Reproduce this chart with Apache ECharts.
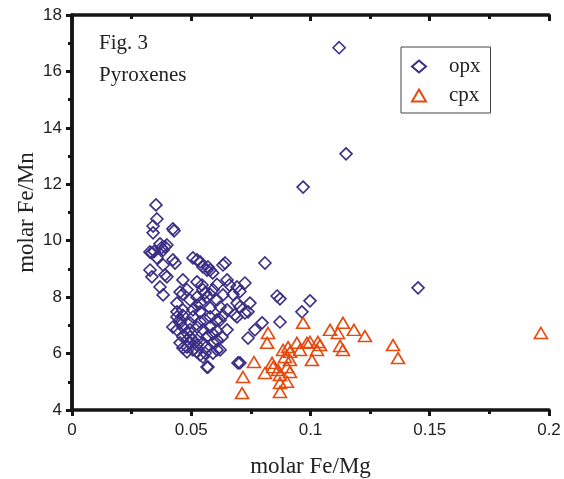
<!DOCTYPE html>
<html>
<head>
<meta charset="utf-8">
<script src="https://cdn.jsdelivr.net/npm/echarts@6/dist/echarts.min.js"></script>
<style>
  html, body { margin: 0; padding: 0; background: #fff; }
  #chart { width: 564px; height: 479px; }
</style>
</head>
<body>
<div id="chart"></div>
<script>
// opx: [molar Fe/Mg, molar Fe/Mn]
const opx = [
  [0.112, 16.84], [0.1149, 13.08], [0.0969, 11.9], [0.1451, 8.33],
  [0.0998, 7.87], [0.086, 8.04], [0.0872, 7.94], [0.0964, 7.48], [0.0872, 7.12],
  [0.0809, 9.21], [0.0633, 9.14],
  [0.0352, 11.27], [0.0356, 10.77], [0.034, 10.52], [0.034, 10.28],
  [0.0423, 10.42], [0.0428, 10.35], [0.0369, 9.89], [0.039, 9.78], [0.0398, 9.85],
  [0.0382, 9.67], [0.0327, 9.6], [0.0335, 9.57], [0.0345, 9.62], [0.0375, 9.75],
  [0.0356, 9.39], [0.0423, 9.32], [0.0432, 9.21], [0.0382, 9.14], [0.0327, 8.96],
  [0.0335, 8.72], [0.039, 8.79], [0.0398, 8.72], [0.0369, 8.36], [0.0382, 8.08],
  [0.0465, 8.61], [0.0453, 8.18], [0.0465, 8.11],
  [0.0507, 9.39], [0.0524, 9.32], [0.0537, 9.25], [0.057, 9.07], [0.0579, 8.96],
  [0.059, 8.86], [0.0642, 9.21], [0.0549, 9.07], [0.0566, 8.96], [0.0482, 8.26],
  [0.0524, 8.54], [0.0545, 8.43], [0.0549, 8.26], [0.065, 8.61], [0.066, 8.43],
  [0.0692, 8.36], [0.0725, 8.5], [0.0495, 7.9], [0.0524, 8.0], [0.0566, 8.01],
  [0.0608, 7.9], [0.0633, 8.08], [0.0591, 8.26], [0.0692, 7.79], [0.0704, 7.65],
  [0.0738, 7.48], [0.0746, 7.79], [0.0725, 7.44], [0.0692, 7.3], [0.0683, 7.37],
  [0.044, 7.48], [0.0465, 7.55], [0.0507, 7.55], [0.0537, 7.79], [0.044, 7.79],
  [0.0537, 7.48], [0.0579, 7.3], [0.0608, 7.19], [0.0453, 7.19], [0.044, 7.3],
  [0.0453, 7.09], [0.0465, 6.94], [0.0423, 6.94], [0.044, 6.84], [0.0495, 7.09],
  [0.0524, 6.94], [0.0549, 6.84], [0.0579, 6.94], [0.0621, 7.19], [0.065, 6.84],
  [0.0482, 6.73], [0.0495, 6.59], [0.0507, 6.48], [0.0453, 6.38], [0.0465, 6.59],
  [0.0482, 6.48], [0.0495, 6.38], [0.0524, 6.48], [0.0549, 6.38], [0.0591, 6.38],
  [0.0608, 6.48], [0.0629, 6.59], [0.0482, 6.23], [0.0465, 6.2], [0.0507, 6.13],
  [0.0482, 6.06], [0.0524, 6.06], [0.0537, 5.95], [0.0549, 5.88], [0.0558, 6.02],
  [0.0591, 6.02], [0.0608, 6.13], [0.0621, 6.13], [0.057, 5.52], [0.0566, 5.52],
  [0.0797, 7.09], [0.0767, 6.84], [0.0738, 6.55], [0.0704, 5.67], [0.0696, 5.67],
  [0.0579, 7.62], [0.0621, 7.65], [0.065, 7.55], [0.0558, 7.2], [0.0591, 6.7],
  [0.0537, 7.12], [0.0566, 6.6], [0.0608, 6.8], [0.0495, 6.85], [0.0507, 7.3],
  [0.0465, 7.35], [0.0524, 7.7], [0.0558, 8.15], [0.0608, 8.45], [0.0579, 8.1],
  [0.0633, 7.35], [0.0675, 8.1], [0.0704, 8.2], [0.0524, 6.3], [0.0565, 6.25]
];
const cpx = [
  [0.0969, 7.09], [0.0822, 6.73], [0.0818, 6.38], [0.0763, 5.7], [0.0717, 5.17],
  [0.0713, 4.6], [0.0809, 5.31], [0.0839, 5.67], [0.0843, 5.52], [0.0864, 5.42],
  [0.0872, 5.24], [0.0901, 5.52], [0.0914, 5.35], [0.0872, 4.96], [0.0901, 5.0],
  [0.0872, 4.64], [0.0885, 6.13], [0.0906, 6.23], [0.0914, 6.06], [0.0943, 6.38],
  [0.0956, 6.13], [0.0985, 6.38], [0.0998, 6.41], [0.1027, 6.13], [0.1031, 6.41],
  [0.104, 6.3], [0.0893, 5.88], [0.1006, 5.77], [0.0914, 5.77], [0.1082, 6.84],
  [0.1115, 6.73], [0.1136, 7.09], [0.1182, 6.84], [0.1124, 6.27], [0.1136, 6.13],
  [0.1228, 6.62], [0.1346, 6.3], [0.1367, 5.84], [0.1966, 6.73]
];
const xTicks = { min: 0, max: 0.2, interval: 0.05 };
const yTicks = { min: 4, max: 18, interval: 2 };

const axisLine = { show: true, lineStyle: { color: '#151515', width: 3.5 } };
const labelStyle = { color: '#222', fontFamily: 'Liberation Sans', fontSize: 17 };
const nameStyle = { color: '#222', fontFamily: 'Liberation Serif', fontSize: 23 };

const chart = echarts.init(document.getElementById('chart'));
chart.setOption({
  animation: false,
  title: {
    text: 'Fig. 3\nPyroxenes',
    left: 94, top: 22,
    textStyle: { fontFamily: 'Liberation Serif', fontSize: 21, fontWeight: 'normal', color: '#222', lineHeight: 32 }
  },
  legend: {
    data: ['opx', 'cpx'],
    orient: 'vertical',
    left: 401, top: 47,
    padding: [9, 10, 7, 10],
    itemGap: 8,
    itemWidth: 14, itemHeight: 12,
    borderColor: '#444', borderWidth: 1,
    textStyle: { fontFamily: 'Liberation Serif', fontSize: 21, color: '#222', padding: [0, 0, 0, 18] }
  },
  grid: { left: 72, right: 15, top: 15, bottom: 69, outerBoundsMode: 'none' },
  xAxis: [
    {
      type: 'value', position: 'bottom',
      min: xTicks.min, max: xTicks.max, interval: xTicks.interval,
      name: 'molar Fe/Mg', nameLocation: 'middle', nameGap: 45, nameTextStyle: nameStyle,
      axisLine: axisLine,
      axisTick: { show: true, inside: false, length: 6, lineStyle: { color: '#151515', width: 3 } },
      minorTick: { show: true, splitNumber: 2, length: 4, lineStyle: { color: '#151515', width: 3 } },
      axisLabel: Object.assign({ margin: 12 }, labelStyle),
      splitLine: { show: false }
    },
    {
      type: 'value', position: 'top',
      min: xTicks.min, max: xTicks.max, interval: xTicks.interval,
      axisLine: axisLine,
      axisTick: { show: true, inside: true, length: 6, lineStyle: { color: '#151515', width: 3 } },
      minorTick: { show: true, splitNumber: 2, length: 4, lineStyle: { color: '#151515', width: 3 } },
      axisLabel: { show: false },
      splitLine: { show: false }
    }
  ],
  yAxis: [
    {
      type: 'value', position: 'left',
      min: yTicks.min, max: yTicks.max, interval: yTicks.interval,
      name: 'molar Fe/Mn', nameLocation: 'middle', nameGap: 34, nameMoveOverlap: false,
      nameTextStyle: nameStyle,
      axisLine: axisLine,
      axisTick: { show: true, inside: false, length: 6, lineStyle: { color: '#151515', width: 3 } },
      minorTick: { show: true, splitNumber: 2, length: 4, lineStyle: { color: '#151515', width: 3 } },
      axisLabel: Object.assign({ margin: 10 }, labelStyle),
      splitLine: { show: false }
    },
    {
      type: 'value', position: 'right',
      min: yTicks.min, max: yTicks.max, interval: yTicks.interval,
      axisLine: axisLine,
      axisTick: { show: true, inside: true, length: 6, lineStyle: { color: '#151515', width: 3 } },
      minorTick: { show: true, splitNumber: 2, length: 4, lineStyle: { color: '#151515', width: 3 } },
      axisLabel: { show: false },
      splitLine: { show: false }
    }
  ],
  series: [
    {
      name: 'opx', type: 'scatter', symbol: 'diamond', symbolSize: 12,
      itemStyle: { color: 'rgba(255,255,255,0)', borderColor: '#3b2c85', borderWidth: 1.6, opacity: 1 },
      data: opx
    },
    {
      name: 'cpx', type: 'scatter', symbol: 'triangle', symbolSize: [13, 11],
      itemStyle: { color: 'rgba(255,255,255,0)', borderColor: '#e8490c', borderWidth: 1.6, opacity: 1 },
      data: cpx
    }
  ]
});
</script>
</body>
</html>
